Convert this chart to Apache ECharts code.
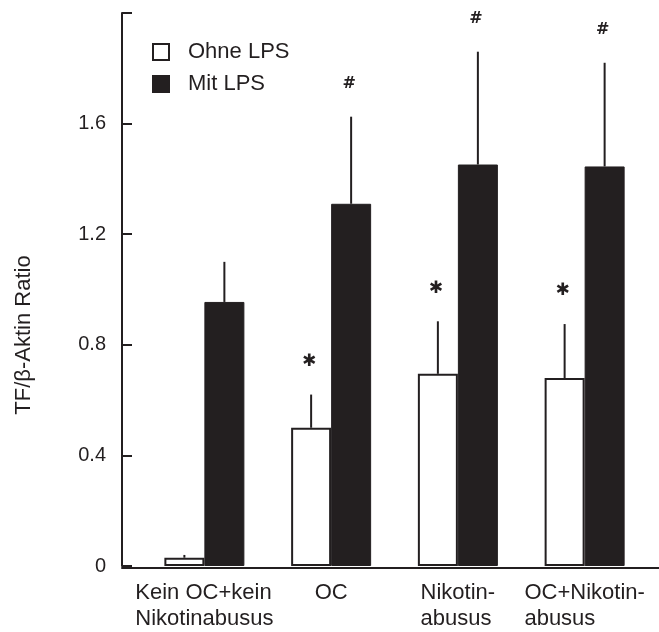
<!DOCTYPE html>
<html>
<head>
<meta charset="utf-8">
<script src="https://cdn.jsdelivr.net/npm/echarts@6/dist/echarts.min.js"></script>
<style>
  html, body { margin: 0; padding: 0; background: #fff; }
  #chart { width: 659px; height: 632px; }
</style>
</head>
<body>
<div id="chart"></div>
<script>
const CATEGORIES = ['Kein OC+kein\nNikotinabusus', 'OC', 'Nikotin-\nabusus', 'OC+Nikotin-\nabusus'];
const OHNE_LPS = [0.03, 0.50, 0.695, 0.68];
const OHNE_ERR = [0.01, 0.12, 0.19, 0.195];
const OHNE_MARK = ['', '*', '*', '*'];
const MIT_LPS = [0.955, 1.31, 1.452, 1.445];
const MIT_ERR = [0.145, 0.315, 0.408, 0.375];
const MIT_MARK = ['', '#', '#', '#'];
const Y_TICKS = [0, 0.4, 0.8, 1.2, 1.6];

const INK = '#231f20';
const FONT = "'Liberation Sans', Arial, sans-serif";
const BAR_W = 40;

const chart = echarts.init(document.getElementById('chart'));

function errData(vals, errs) {
    return vals.map((v, i) => [i, v, v + errs[i]]);
}

// draws the upward error line and the significance mark over it
function errRender(side, marks) {
    return function (params, api) {
        const i = api.value(0);
        const base = api.coord([i, api.value(1)]);
        const top = api.coord([i, api.value(2)]);
        const x = base[0] + side * BAR_W / 2;
        const mark = marks[params.dataIndex];
        const children = [{
            type: 'line',
            shape: { x1: x, y1: base[1], x2: x, y2: top[1] },
            style: { stroke: INK, lineWidth: 2 }
        }];
        if (mark) {
            children.push({
                type: 'text',
                x: x - 2,
                y: top[1] - 33,
                style: {
                    text: mark === '*' ? '✱' : '#',
                    fill: INK,
                    font: mark === '*' ? "bold 17px 'DejaVu Sans'" : "bold 16px 'DejaVu Sans'",
                    align: 'center',
                    verticalAlign: 'middle'
                }
            });
        }
        return { type: 'group', children: children };
    };
}

const option = {
    animation: false,
    backgroundColor: '#fff',
    textStyle: { fontFamily: FONT },
    legend: {
        orient: 'vertical',
        left: 147,
        top: 36,
        itemWidth: 16,
        itemHeight: 16,
        itemGap: 10,
        icon: 'rect',
        textStyle: { fontFamily: FONT, fontSize: 22, color: INK, lineHeight: 22, padding: [0, 0, 0, 14] },
        data: ['Ohne LPS', 'Mit LPS']
    },
    graphic: [{
        type: 'text',
        x: 24,
        y: 335,
        rotation: Math.PI / 2,
        style: {
            text: 'TF/β-Aktin Ratio',
            font: "22px 'Liberation Sans', Arial, sans-serif",
            fill: INK,
            align: 'center',
            verticalAlign: 'middle'
        }
    }],
    grid: [
        { left: 141, right: 11, top: 13, bottom: 64 },
        { left: 122, right: 0, top: 13, bottom: 64 }
    ],
    xAxis: [{
        type: 'category',
        gridIndex: 0,
        data: CATEGORIES,
        axisLine: { show: false },
        axisTick: { show: false },
        axisLabel: {
            interval: 0,
            margin: 14,
            color: INK,
            fontSize: 22,
            lineHeight: 26,
            align: 'center',
            hideOverlap: false,
            formatter: v => v.split('\n').map(s => '{a|' + s + '}').join('\n'),
            rich: { a: { align: 'left', fontSize: 22, lineHeight: 26, color: INK, fontFamily: FONT } }
        }
    }, {
        type: 'value',
        gridIndex: 1,
        min: 0,
        max: 1,
        axisLine: { show: true, lineStyle: { color: INK, width: 2 } },
        axisTick: { show: false },
        axisLabel: { show: false },
        splitLine: { show: false }
    }],
    yAxis: [{
        type: 'value',
        gridIndex: 0,
        min: 0,
        max: 2.0,
        interval: 0.4,
        offset: 19,
        axisLine: { show: true, lineStyle: { color: INK, width: 2 } },
        axisTick: { show: true, inside: true, length: 10, lineStyle: { color: INK, width: 2 } },
        axisLabel: {
            margin: 16,
            color: INK,
            fontSize: 20,
            formatter: v => Y_TICKS.some(t => Math.abs(t - v) < 1e-6) ? String(Math.round(v * 10) / 10) : ''
        },
        splitLine: { show: false }
    }, {
        type: 'value',
        gridIndex: 1,
        show: false,
        min: 0,
        max: 1
    }],
    series: [{
        name: 'Ohne LPS',
        type: 'bar',
        barWidth: BAR_W,
        barGap: '0%',
        data: OHNE_LPS,
        itemStyle: { color: '#fff', borderColor: INK, borderWidth: 2 }
    }, {
        name: 'Mit LPS',
        type: 'bar',
        barWidth: BAR_W,
        barGap: '0%',
        data: MIT_LPS,
        itemStyle: { color: INK, borderColor: INK, borderWidth: 1 }
    }, {
        type: 'custom',
        renderItem: errRender(-1, OHNE_MARK),
        data: errData(OHNE_LPS, OHNE_ERR),
        encode: { x: 0, y: [1, 2] },
        z: 3
    }, {
        type: 'custom',
        renderItem: errRender(1, MIT_MARK),
        data: errData(MIT_LPS, MIT_ERR),
        encode: { x: 0, y: [1, 2] },
        z: 3
    }]
};

chart.setOption(option);
</script>
</body>
</html>
